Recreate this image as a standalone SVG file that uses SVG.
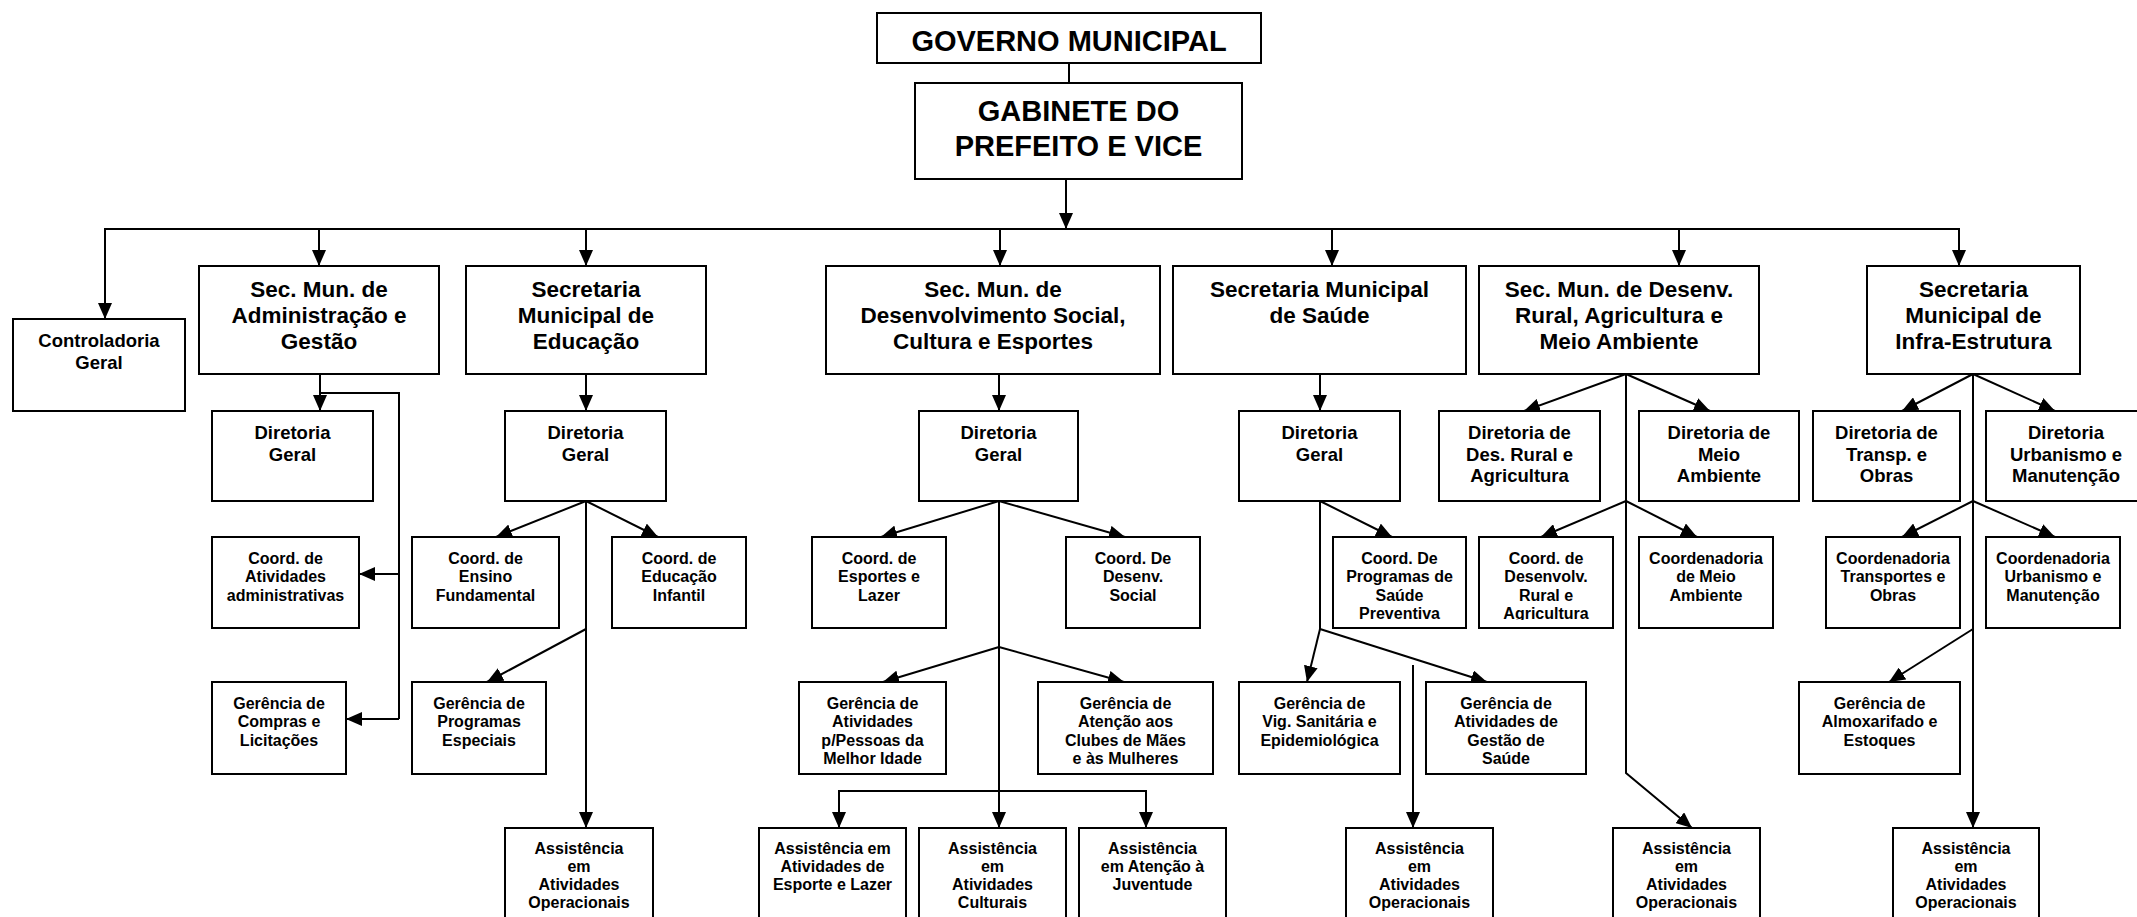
<svg xmlns="http://www.w3.org/2000/svg" width="2137" height="917" viewBox="0 0 2137 917">
<style>
.box{fill:#fff;stroke:#000;stroke-width:2}
.t{font-family:"Liberation Sans",Arial,sans-serif;font-weight:bold;text-anchor:middle;fill:#000}
.top{font-size:29px}
.h{font-size:22.5px}
.d{font-size:18.5px}
.s{font-size:16px}
.c{fill:none;stroke:#000;stroke-width:2}
.a{marker-end:url(#arr)}
</style>
<defs>
<marker id="arr" markerUnits="userSpaceOnUse" markerWidth="16" markerHeight="14" refX="16" refY="7" orient="auto"><path d="M0,0 L16,7 L0,14 z" fill="#000"/></marker>
<clipPath id="clipProg"><rect x="1333" y="537" width="133" height="83"/></clipPath>
<clipPath id="clipDesRural"><rect x="1479" y="537" width="134" height="83"/></clipPath>
</defs>
<rect width="2137" height="917" fill="#fff"/>

<g id="connectors">
<line class="c" x1="1069" y1="63" x2="1069" y2="83"/>
<line class="c a" x1="1066" y1="179" x2="1066" y2="229"/>
<line class="c" x1="104" y1="229" x2="1960" y2="229"/>
<line class="c a" x1="105" y1="229" x2="105" y2="319"/>
<line class="c a" x1="319" y1="229" x2="319" y2="266"/>
<line class="c a" x1="586" y1="229" x2="586" y2="266"/>
<line class="c a" x1="1000" y1="229" x2="1000" y2="266"/>
<line class="c a" x1="1332" y1="229" x2="1332" y2="266"/>
<line class="c a" x1="1679" y1="229" x2="1679" y2="266"/>
<line class="c a" x1="1959" y1="229" x2="1959" y2="266"/>

<line class="c a" x1="320" y1="374" x2="320" y2="411"/>
<polyline class="c" points="320,393 399,393 399,719"/>
<line class="c a" x1="399" y1="574" x2="359" y2="574"/>
<line class="c a" x1="399" y1="719" x2="346" y2="719"/>

<line class="c a" x1="586" y1="374" x2="586" y2="411"/>
<line class="c a" x1="586" y1="501" x2="586" y2="828"/>
<line class="c a" x1="586" y1="501" x2="496" y2="537"/>
<line class="c a" x1="586" y1="501" x2="658" y2="537"/>
<line class="c a" x1="586" y1="629" x2="487" y2="682"/>

<line class="c a" x1="999" y1="374" x2="999" y2="411"/>
<line class="c a" x1="999" y1="501" x2="999" y2="828"/>
<line class="c a" x1="999" y1="501" x2="881" y2="537"/>
<line class="c a" x1="999" y1="501" x2="1125" y2="537"/>
<line class="c a" x1="999" y1="647" x2="883" y2="682"/>
<line class="c a" x1="999" y1="647" x2="1124" y2="682"/>
<line class="c" x1="839" y1="791" x2="1146" y2="791"/>
<line class="c a" x1="839" y1="790" x2="839" y2="828"/>
<line class="c a" x1="1146" y1="790" x2="1146" y2="828"/>

<line class="c a" x1="1320" y1="374" x2="1320" y2="411"/>
<line class="c" x1="1320" y1="501" x2="1320" y2="629"/>
<line class="c a" x1="1320" y1="501" x2="1392" y2="537"/>
<line class="c a" x1="1320" y1="629" x2="1307" y2="682"/>
<line class="c a" x1="1320" y1="629" x2="1487" y2="682"/>
<line class="c a" x1="1413" y1="665" x2="1413" y2="828"/>

<line class="c a" x1="1626" y1="374" x2="1524" y2="411"/>
<line class="c a" x1="1626" y1="374" x2="1710" y2="411"/>
<polyline class="c a" points="1626,374 1626,773 1692,828"/>
<line class="c a" x1="1626" y1="501" x2="1541" y2="537"/>
<line class="c a" x1="1626" y1="501" x2="1697" y2="537"/>

<line class="c a" x1="1973" y1="374" x2="1902" y2="411"/>
<line class="c a" x1="1973" y1="374" x2="2055" y2="411"/>
<line class="c a" x1="1973" y1="374" x2="1973" y2="828"/>
<line class="c a" x1="1973" y1="501" x2="1902" y2="537"/>
<line class="c a" x1="1973" y1="501" x2="2055" y2="537"/>
<line class="c a" x1="1973" y1="629" x2="1889" y2="682"/>
</g>

<g id="governo">
<rect class="box" x="877" y="13" width="384" height="50"/>
<text class="t top" x="1069" y="51">GOVERNO MUNICIPAL</text>
</g>
<g id="gabinete">
<rect class="box" x="915" y="83" width="327" height="96"/>
<text class="t top" x="1078.5" y="121">GABINETE DO</text>
<text class="t top" x="1078.5" y="156">PREFEITO E VICE</text>
</g>

<g id="controladoria">
<rect class="box" x="13" y="319" width="172" height="92"/>
<text class="t d" x="99" y="347">Controladoria</text>
<text class="t d" x="99" y="369">Geral</text>
</g>

<g id="sec-adm">
<rect class="box" x="199" y="266" width="240" height="108"/>
<text class="t h" x="319" y="297">Sec. Mun. de</text>
<text class="t h" x="319" y="323">Administração e</text>
<text class="t h" x="319" y="349">Gestão</text>
</g>
<g id="sec-edu">
<rect class="box" x="466" y="266" width="240" height="108"/>
<text class="t h" x="586" y="297">Secretaria</text>
<text class="t h" x="586" y="323">Municipal de</text>
<text class="t h" x="586" y="349">Educação</text>
</g>
<g id="sec-social">
<rect class="box" x="826" y="266" width="334" height="108"/>
<text class="t h" x="993" y="297">Sec. Mun. de</text>
<text class="t h" x="993" y="323">Desenvolvimento Social,</text>
<text class="t h" x="993" y="349">Cultura e Esportes</text>
</g>
<g id="sec-saude">
<rect class="box" x="1173" y="266" width="293" height="108"/>
<text class="t h" x="1319.5" y="297">Secretaria Municipal</text>
<text class="t h" x="1319.5" y="323">de Saúde</text>
</g>
<g id="sec-rural">
<rect class="box" x="1479" y="266" width="280" height="108"/>
<text class="t h" x="1619" y="297">Sec. Mun. de Desenv.</text>
<text class="t h" x="1619" y="323">Rural, Agricultura e</text>
<text class="t h" x="1619" y="349">Meio Ambiente</text>
</g>
<g id="sec-infra">
<rect class="box" x="1867" y="266" width="213" height="108"/>
<text class="t h" x="1973.5" y="297">Secretaria</text>
<text class="t h" x="1973.5" y="323">Municipal de</text>
<text class="t h" x="1973.5" y="349">Infra-Estrutura</text>
</g>

<g id="adm-dg">
<rect class="box" x="212" y="411" width="161" height="90"/>
<text class="t d" x="292.5" y="439">Diretoria</text>
<text class="t d" x="292.5" y="460.5">Geral</text>
</g>
<g id="edu-dg">
<rect class="box" x="505" y="411" width="161" height="90"/>
<text class="t d" x="585.5" y="439">Diretoria</text>
<text class="t d" x="585.5" y="460.5">Geral</text>
</g>
<g id="social-dg">
<rect class="box" x="919" y="411" width="159" height="90"/>
<text class="t d" x="998.5" y="439">Diretoria</text>
<text class="t d" x="998.5" y="460.5">Geral</text>
</g>
<g id="saude-dg">
<rect class="box" x="1239" y="411" width="161" height="90"/>
<text class="t d" x="1319.5" y="439">Diretoria</text>
<text class="t d" x="1319.5" y="460.5">Geral</text>
</g>
<g id="dir-rural">
<rect class="box" x="1439" y="411" width="161" height="90"/>
<text class="t d" x="1519.5" y="439">Diretoria de</text>
<text class="t d" x="1519.5" y="460.5">Des. Rural e</text>
<text class="t d" x="1519.5" y="482">Agricultura</text>
</g>
<g id="dir-meio">
<rect class="box" x="1639" y="411" width="160" height="90"/>
<text class="t d" x="1719" y="439">Diretoria de</text>
<text class="t d" x="1719" y="460.5">Meio</text>
<text class="t d" x="1719" y="482">Ambiente</text>
</g>
<g id="dir-transp">
<rect class="box" x="1813" y="411" width="147" height="90"/>
<text class="t d" x="1886.5" y="439">Diretoria de</text>
<text class="t d" x="1886.5" y="460.5">Transp. e</text>
<text class="t d" x="1886.5" y="482">Obras</text>
</g>
<g id="dir-urb">
<rect class="box" x="1986" y="411" width="161" height="90"/>
<text class="t d" x="2066" y="439">Diretoria</text>
<text class="t d" x="2066" y="460.5">Urbanismo e</text>
<text class="t d" x="2066" y="482">Manutenção</text>
</g>

<g id="coord-adm">
<rect class="box" x="212" y="537" width="147" height="91"/>
<text class="t s" x="285.5" y="564">Coord. de</text>
<text class="t s" x="285.5" y="582.3">Atividades</text>
<text class="t s" x="285.5" y="600.6">administrativas</text>
</g>
<g id="coord-ensino">
<rect class="box" x="412" y="537" width="147" height="91"/>
<text class="t s" x="485.5" y="564">Coord. de</text>
<text class="t s" x="485.5" y="582.3">Ensino</text>
<text class="t s" x="485.5" y="600.6">Fundamental</text>
</g>
<g id="coord-infantil">
<rect class="box" x="612" y="537" width="134" height="91"/>
<text class="t s" x="679" y="564">Coord. de</text>
<text class="t s" x="679" y="582.3">Educação</text>
<text class="t s" x="679" y="600.6">Infantil</text>
</g>
<g id="coord-esportes">
<rect class="box" x="812" y="537" width="134" height="91"/>
<text class="t s" x="879" y="564">Coord. de</text>
<text class="t s" x="879" y="582.3">Esportes e</text>
<text class="t s" x="879" y="600.6">Lazer</text>
</g>
<g id="coord-social">
<rect class="box" x="1066" y="537" width="134" height="91"/>
<text class="t s" x="1133" y="564">Coord. De</text>
<text class="t s" x="1133" y="582.3">Desenv.</text>
<text class="t s" x="1133" y="600.6">Social</text>
</g>
<g id="coord-programas">
<rect class="box" x="1333" y="537" width="133" height="91"/>
<g clip-path="url(#clipProg)">
<text class="t s" x="1399.5" y="564">Coord. De</text>
<text class="t s" x="1399.5" y="582.3">Programas de</text>
<text class="t s" x="1399.5" y="600.6">Saúde</text>
<text class="t s" x="1399.5" y="619">Preventiva</text>
</g>
</g>
<g id="coord-desrural">
<rect class="box" x="1479" y="537" width="134" height="91"/>
<g clip-path="url(#clipDesRural)">
<text class="t s" x="1546" y="564">Coord. de</text>
<text class="t s" x="1546" y="582.3">Desenvolv.</text>
<text class="t s" x="1546" y="600.6">Rural e</text>
<text class="t s" x="1546" y="619">Agricultura</text>
</g>
</g>
<g id="coord-meio">
<rect class="box" x="1639" y="537" width="134" height="91"/>
<text class="t s" x="1706" y="564">Coordenadoria</text>
<text class="t s" x="1706" y="582.3">de Meio</text>
<text class="t s" x="1706" y="600.6">Ambiente</text>
</g>
<g id="coord-transp">
<rect class="box" x="1826" y="537" width="134" height="91"/>
<text class="t s" x="1893" y="564">Coordenadoria</text>
<text class="t s" x="1893" y="582.3">Transportes e</text>
<text class="t s" x="1893" y="600.6">Obras</text>
</g>
<g id="coord-urb">
<rect class="box" x="1986" y="537" width="134" height="91"/>
<text class="t s" x="2053" y="564">Coordenadoria</text>
<text class="t s" x="2053" y="582.3">Urbanismo e</text>
<text class="t s" x="2053" y="600.6">Manutenção</text>
</g>

<g id="ger-compras">
<rect class="box" x="212" y="682" width="134" height="92"/>
<text class="t s" x="279" y="709">Gerência de</text>
<text class="t s" x="279" y="727.3">Compras e</text>
<text class="t s" x="279" y="745.6">Licitações</text>
</g>
<g id="ger-programas">
<rect class="box" x="412" y="682" width="134" height="92"/>
<text class="t s" x="479" y="709">Gerência de</text>
<text class="t s" x="479" y="727.3">Programas</text>
<text class="t s" x="479" y="745.6">Especiais</text>
</g>
<g id="ger-idade">
<rect class="box" x="799" y="682" width="147" height="92"/>
<text class="t s" x="872.5" y="709">Gerência de</text>
<text class="t s" x="872.5" y="727.3">Atividades</text>
<text class="t s" x="872.5" y="745.6">p/Pessoas da</text>
<text class="t s" x="872.5" y="763.9">Melhor Idade</text>
</g>
<g id="ger-clubes">
<rect class="box" x="1038" y="682" width="175" height="92"/>
<text class="t s" x="1125.5" y="709">Gerência de</text>
<text class="t s" x="1125.5" y="727.3">Atenção aos</text>
<text class="t s" x="1125.5" y="745.6">Clubes de Mães</text>
<text class="t s" x="1125.5" y="763.9">e às Mulheres</text>
</g>
<g id="ger-vig">
<rect class="box" x="1239" y="682" width="161" height="92"/>
<text class="t s" x="1319.5" y="709">Gerência de</text>
<text class="t s" x="1319.5" y="727.3">Vig. Sanitária e</text>
<text class="t s" x="1319.5" y="745.6">Epidemiológica</text>
</g>
<g id="ger-gestao">
<rect class="box" x="1426" y="682" width="160" height="92"/>
<text class="t s" x="1506" y="709">Gerência de</text>
<text class="t s" x="1506" y="727.3">Atividades de</text>
<text class="t s" x="1506" y="745.6">Gestão de</text>
<text class="t s" x="1506" y="763.9">Saúde</text>
</g>
<g id="ger-almox">
<rect class="box" x="1799" y="682" width="161" height="92"/>
<text class="t s" x="1879.5" y="709">Gerência de</text>
<text class="t s" x="1879.5" y="727.3">Almoxarifado e</text>
<text class="t s" x="1879.5" y="745.6">Estoques</text>
</g>

<g id="ass-edu">
<rect class="box" x="505" y="828" width="148" height="112"/>
<text class="t s" x="579" y="853.5">Assistência</text>
<text class="t s" x="579" y="871.8">em</text>
<text class="t s" x="579" y="890.1">Atividades</text>
<text class="t s" x="579" y="908.4">Operacionais</text>
</g>
<g id="ass-esporte">
<rect class="box" x="759" y="828" width="147" height="112"/>
<text class="t s" x="832.5" y="853.5">Assistência em</text>
<text class="t s" x="832.5" y="871.8">Atividades de</text>
<text class="t s" x="832.5" y="890.1">Esporte e Lazer</text>
</g>
<g id="ass-cultura">
<rect class="box" x="919" y="828" width="147" height="112"/>
<text class="t s" x="992.5" y="853.5">Assistência</text>
<text class="t s" x="992.5" y="871.8">em</text>
<text class="t s" x="992.5" y="890.1">Atividades</text>
<text class="t s" x="992.5" y="908.4">Culturais</text>
</g>
<g id="ass-juventude">
<rect class="box" x="1079" y="828" width="147" height="112"/>
<text class="t s" x="1152.5" y="853.5">Assistência</text>
<text class="t s" x="1152.5" y="871.8">em Atenção à</text>
<text class="t s" x="1152.5" y="890.1">Juventude</text>
</g>
<g id="ass-saude">
<rect class="box" x="1346" y="828" width="147" height="112"/>
<text class="t s" x="1419.5" y="853.5">Assistência</text>
<text class="t s" x="1419.5" y="871.8">em</text>
<text class="t s" x="1419.5" y="890.1">Atividades</text>
<text class="t s" x="1419.5" y="908.4">Operacionais</text>
</g>
<g id="ass-rural">
<rect class="box" x="1613" y="828" width="147" height="112"/>
<text class="t s" x="1686.5" y="853.5">Assistência</text>
<text class="t s" x="1686.5" y="871.8">em</text>
<text class="t s" x="1686.5" y="890.1">Atividades</text>
<text class="t s" x="1686.5" y="908.4">Operacionais</text>
</g>
<g id="ass-infra">
<rect class="box" x="1893" y="828" width="146" height="112"/>
<text class="t s" x="1966" y="853.5">Assistência</text>
<text class="t s" x="1966" y="871.8">em</text>
<text class="t s" x="1966" y="890.1">Atividades</text>
<text class="t s" x="1966" y="908.4">Operacionais</text>
</g>
</svg>
